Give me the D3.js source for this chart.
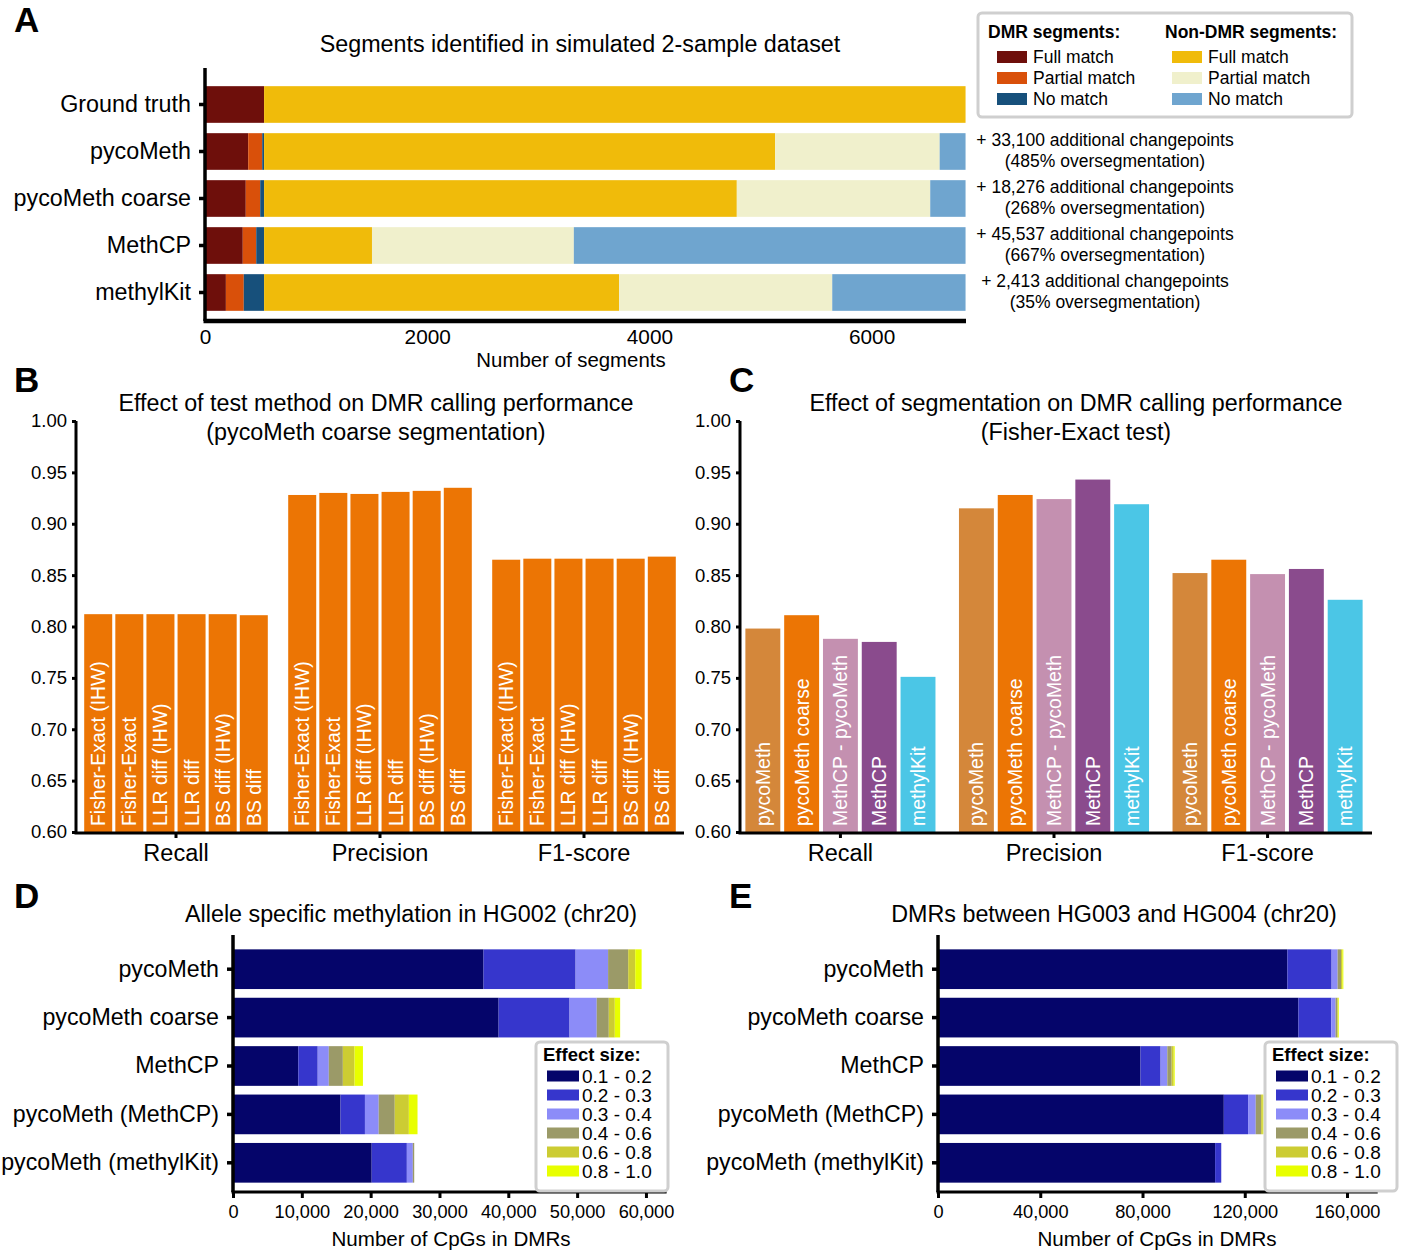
<!DOCTYPE html>
<html><head><meta charset="utf-8">
<script src="https://cdn.jsdelivr.net/npm/d3@7/dist/d3.min.js"></script>
<style>
body{margin:0;background:#fff;}
svg{display:block;font-family:"Liberation Sans",Arial,Helvetica,sans-serif;}
</style></head>
<body><svg id="fig" width="1417" height="1258"></svg>
<script>
// ---------- Panel A data ----------
const segCategories = ["Ground truth","pycoMeth","pycoMeth coarse","MethCP","methylKit"];
const segSeriesNames = ["DMR full","DMR partial","DMR no","Non-DMR full","Non-DMR partial","Non-DMR no"];
const dmrFull       = [532, 389, 367, 340, 188];
const dmrPartial    = [0, 126, 130, 121, 161];
const dmrNo         = [0, 17, 35, 71, 183];
const nonDmrFull    = [6314, 4600, 4255, 971, 3195];
const nonDmrPartial = [0, 1481, 1741, 1817, 1919];
const nonDmrNo      = [0, 233, 318, 3526, 1200];
const segColors = ["#6e0f0b","#d9500a","#17507b","#f0bb0a","#f0f0cc","#6fa5cf"];
const segTicks = [0,2000,4000,6000];
const annotLine1 = ["+ 33,100 additional changepoints","+ 18,276 additional changepoints","+ 45,537 additional changepoints","+ 2,413 additional changepoints"];
const annotLine2 = ["(485% oversegmentation)","(268% oversegmentation)","(667% oversegmentation)","(35% oversegmentation)"];

// ---------- Panel B data ----------
const metrics = ["Recall","Precision","F1-score"];
const testMethods = ["Fisher-Exact (IHW)","Fisher-Exact","LLR diff (IHW)","LLR diff","BS diff (IHW)","BS diff"];
const testRecall    = [0.812,0.812,0.812,0.812,0.812,0.811];
const testPrecision = [0.928,0.930,0.929,0.931,0.932,0.935];
const testF1        = [0.865,0.866,0.866,0.866,0.866,0.868];
const perfTicks = [0.60,0.65,0.70,0.75,0.80,0.85,0.90,0.95,1.00];

// ---------- Panel C data ----------
const segMethods = ["pycoMeth","pycoMeth coarse","MethCP - pycoMeth","MethCP","methylKit"];
const segRecall    = [0.798,0.811,0.788,0.785,0.751];
const segPrecision = [0.915,0.928,0.924,0.943,0.919];
const segF1        = [0.852,0.865,0.851,0.856,0.826];
const segMethodColors = ["#d4873a","#ec7504","#c490b0","#8a4b8d","#4bc6e6"];

// ---------- Panel D/E data ----------
const dmrCategories = ["pycoMeth","pycoMeth coarse","MethCP","pycoMeth (MethCP)","pycoMeth (methylKit)"];
const effectBins = ["0.1 - 0.2","0.2 - 0.3","0.3 - 0.4","0.4 - 0.6","0.6 - 0.8","0.8 - 1.0"];
const effectColors = ["#05056a","#3636cc","#8c8cf8","#9b9a68","#cccc33","#e8ff00"];
const aseBin1 = [36400, 38590, 9490, 15620, 20150];
const aseBin2 = [13380, 10310, 2820, 3550, 5110];
const aseBin3 = [4720, 3950, 1610, 2000, 870];
const aseBin4 = [2920, 1750, 2040, 2330, 200];
const aseBin5 = [1020, 870, 1700, 2050, 0];
const aseBin6 = [930, 780, 1220, 1260, 0];
const aseTicks = [0,10000,20000,30000,40000,50000,60000];
const hgBin1 = [136660, 140980, 79210, 111800, 108400];
const hgBin2 = [17310, 12860, 7870, 9500, 2400];
const hgBin3 = [2360, 1700, 2620, 3000, 0];
const hgBin4 = [1310, 660, 1710, 2100, 0];
const hgBin5 = [520, 400, 790, 650, 0];
const hgBin6 = [400, 250, 390, 260, 0];
const hgTicks = [0,40000,80000,120000,160000];

const svg = d3.select("#fig");
const fmt = d3.format(",");

function panelLetter(t,x,y){
  svg.append("text").attr("x",x).attr("y",y).attr("font-size",35).attr("font-weight","bold").text(t);
}
function styleAxis(g, w){
  g.select(".domain").attr("stroke","#000").attr("stroke-width",w);
  g.selectAll(".tick line").attr("stroke","#000").attr("stroke-width",w);
  g.selectAll(".tick text").attr("fill","#000");
  g.attr("font-family",null);
}

// ---------- stacked horizontal bar helper ----------
function stackedH(opt){
  const rows = opt.categories.map((c,i)=>{
    const o={cat:c}; opt.series.forEach((s,j)=>o["s"+j]=s[i]); return o;});
  const keys = opt.series.map((s,j)=>"s"+j);
  const stacked = d3.stack().keys(keys)(rows);
  const x = d3.scaleLinear().domain(opt.xDomain).range(opt.xRange);
  const y = d3.scaleBand().domain(opt.categories).range(opt.yRange).paddingInner(opt.pi).paddingOuter(opt.po);
  const g = svg.append("g");
  g.selectAll("g.ser").data(stacked).join("g").attr("fill",(d,i)=>opt.colors[i])
    .selectAll("rect").data(d=>d).join("rect")
    .attr("x",d=>x(d[0])).attr("width",d=>Math.max(0,x(d[1])-x(d[0])))
    .attr("y",d=>y(d.data.cat)).attr("height",y.bandwidth());
  // y axis
  const ya = g.append("g").attr("transform",`translate(${opt.xRange[0]},0)`)
    .call(d3.axisLeft(y).tickSize(6).tickPadding(8).tickSizeOuter(0));
  ya.select(".domain").attr("d",`M0,${opt.yAxisTop}V${opt.yRange[1]+opt.axisGap}`);
  styleAxis(ya,3.5);
  ya.selectAll(".tick text").attr("font-size",opt.catFont);
  // x axis
  const xa = g.append("g").attr("transform",`translate(0,${opt.yRange[1]+opt.axisGap})`)
    .call(d3.axisBottom(x).tickValues(opt.ticks).tickFormat(opt.tickFormat).tickSize(opt.xTickSize).tickPadding(opt.xTickPad).tickSizeOuter(0));
  xa.select(".domain").attr("d",`M${opt.xRange[0]-1.5},0H${opt.xRange[1]}`);
  styleAxis(xa,opt.xAxisW);
  xa.selectAll(".tick text").attr("font-size",opt.tickFont);
  g.append("text").attr("x",opt.xTitleX).attr("y",opt.xTitleY).attr("text-anchor","middle")
    .attr("font-size",opt.xTitleFont).text(opt.xTitle);
  return {x,y};
}

// ================= Panel A =================
panelLetter("A",14,32);
svg.append("text").attr("x",580).attr("y",52).attr("text-anchor","middle").attr("font-size",23.3)
  .text("Segments identified in simulated 2-sample dataset");
const A = stackedH({
  categories:segCategories,
  series:[dmrFull,dmrPartial,dmrNo,nonDmrFull,nonDmrPartial,nonDmrNo],
  colors:segColors, xDomain:[0,6850], xRange:[205,966], yRange:[81,316], pi:0.22, po:0.11,
  yAxisTop:68, axisGap:5, catFont:23.3, ticks:segTicks, tickFormat:d3.format("d"), tickSize:0,
  xTickSize:0, xTickPad:8, xAxisW:4.5, tickFont:20.8,
  xTitle:"Number of segments", xTitleX:571, xTitleY:367, xTitleFont:20.4
});
// annotations
annotLine1.forEach((t,i)=>{
  const cy = A.y(segCategories[i+1]) + A.y.bandwidth()/2;
  svg.append("text").attr("x",1105).attr("y",cy-6).attr("text-anchor","middle").attr("font-size",17.5).text(t);
  svg.append("text").attr("x",1105).attr("y",cy+15).attr("text-anchor","middle").attr("font-size",17.5).text(annotLine2[i]);
});
// legend A
{
  const lg = svg.append("g");
  lg.append("rect").attr("x",978).attr("y",13).attr("width",374).attr("height",104).attr("rx",4)
    .attr("fill","#fff").attr("stroke","#cfcfcf").attr("stroke-width",3);
  lg.append("text").attr("x",988).attr("y",38).attr("font-size",17.5).attr("font-weight","bold").text("DMR segments:");
  lg.append("text").attr("x",1165).attr("y",38).attr("font-size",17.5).attr("font-weight","bold").text("Non-DMR segments:");
  const labs=["Full match","Partial match","No match"];
  segSeriesNames.forEach((n,i)=>{
    const col = i<3?0:1, row=i%3;
    const sx = col===0?997:1172, cy = 57+row*21;
    lg.append("rect").attr("x",sx).attr("y",cy-6).attr("width",30).attr("height",12).attr("fill",segColors[i]);
    lg.append("text").attr("x",sx+36).attr("y",cy+6).attr("font-size",17.5).text(labs[row]);
  });
}

// ================= grouped bar helper (B, C) =================
function grouped(opt){
  const y = d3.scaleLinear().domain([0.6,1.0]).range([832,421]);
  const gx = d3.scaleBand().domain(metrics).range(opt.range).paddingInner(opt.pi).paddingOuter(opt.po);
  const ix = d3.scaleBand().domain(opt.items).range([0,gx.bandwidth()]).paddingInner(opt.ipi);
  const data=[];
  metrics.forEach((m,mi)=>opt.items.forEach((it,k)=>data.push({m,it,k,v:opt.values[mi][k]})));
  const g = svg.append("g");
  const bars = g.selectAll("g.bar").data(data).join("g")
    .attr("transform",d=>`translate(${gx(d.m)+ix(d.it)},0)`);
  bars.append("rect").attr("x",0).attr("width",ix.bandwidth())
    .attr("y",d=>y(d.v)).attr("height",d=>y(0.6)-y(d.v)).attr("fill",d=>opt.color(d.k));
  bars.append("text").attr("transform",`translate(${ix.bandwidth()/2+opt.txtDx},826) rotate(-90)`)
    .attr("fill","#fff").attr("font-size",opt.barFont).text(d=>d.it);
  // axes
  const ya = g.append("g").attr("transform",`translate(${opt.axisX},0)`)
    .call(d3.axisLeft(y).tickValues(perfTicks).tickFormat(d3.format(".2f")).tickSize(4).tickPadding(5).tickSizeOuter(0));
  ya.select(".domain").attr("d",`M0,${y(1.0)}V${y(0.6)+1.5}`);
  styleAxis(ya,3);
  ya.selectAll(".tick text").attr("font-size",18.5);
  const xa = g.append("g").attr("transform",`translate(0,833)`)
    .call(d3.axisBottom(gx).tickSize(5).tickPadding(6).tickSizeOuter(0));
  xa.select(".domain").attr("d",`M${opt.axisX-1.5},0H${opt.axisEnd}`);
  styleAxis(xa,3);
  xa.selectAll(".tick text").attr("font-size",23.5);
  opt.title.forEach((t,i)=>svg.append("text").attr("x",opt.titleX).attr("y",411+i*29)
    .attr("text-anchor","middle").attr("font-size",23.3).text(t));
}

// ================= Panel B =================
panelLetter("B",14,392);
grouped({items:testMethods, values:[testRecall,testPrecision,testF1], color:()=>"#ec7504",
  range:[74,686], pi:0.1, po:0.05, ipi:0.1, axisX:76, axisEnd:684, barFont:19.4, txtDx:7,
  title:["Effect of test method on DMR calling performance","(pycoMeth coarse segmentation)"], titleX:376});

// ================= Panel C =================
panelLetter("C",729,392);
grouped({items:segMethods, values:[segRecall,segPrecision,segF1], color:k=>segMethodColors[k],
  range:[733,1375], pi:0.11, po:0.058, ipi:0.1, axisX:740, axisEnd:1372, barFont:19.4, txtDx:7,
  title:["Effect of segmentation on DMR calling performance","(Fisher-Exact test)"], titleX:1076});

// ================= Panel D/E =================
function effectLegend(x,y){
  const lg=svg.append("g");
  lg.append("rect").attr("x",x).attr("y",y).attr("width",132).attr("height",149).attr("rx",4)
    .attr("fill","#fff").attr("stroke","#cfcfcf").attr("stroke-width",3);
  lg.append("text").attr("x",x+7).attr("y",y+19).attr("font-size",18.5).attr("font-weight","bold").text("Effect size:");
  effectBins.forEach((b,i)=>{
    const cy=y+34+i*19;
    lg.append("rect").attr("x",x+11).attr("y",cy-5.5).attr("width",32).attr("height",11).attr("fill",effectColors[i]);
    lg.append("text").attr("x",x+46).attr("y",cy+6.5).attr("font-size",19).text(b);
  });
}

panelLetter("D",14,908);
svg.append("text").attr("x",411).attr("y",922).attr("text-anchor","middle").attr("font-size",23.3)
  .text("Allele specific methylation in HG002 (chr20)");
stackedH({
  categories:dmrCategories, series:[aseBin1,aseBin2,aseBin3,aseBin4,aseBin5,aseBin6],
  colors:effectColors, xDomain:[0,63000], xRange:[233,666.6], yRange:[945,1187], pi:0.18, po:0.09,
  yAxisTop:935, axisGap:5, catFont:23.2, ticks:aseTicks, tickFormat:fmt,
  xTickSize:6, xTickPad:7, xAxisW:3, tickFont:18.2,
  xTitle:"Number of CpGs in DMRs", xTitleX:451, xTitleY:1246, xTitleFont:20.6
});
effectLegend(536,1042);

panelLetter("E",729,908);
svg.append("text").attr("x",1114).attr("y",922).attr("text-anchor","middle").attr("font-size",23.3)
  .text("DMRs between HG003 and HG004 (chr20)");
stackedH({
  categories:dmrCategories, series:[hgBin1,hgBin2,hgBin3,hgBin4,hgBin5,hgBin6],
  colors:effectColors, xDomain:[0,172000], xRange:[938,1377.7], yRange:[945,1187], pi:0.18, po:0.09,
  yAxisTop:935, axisGap:5, catFont:23.2, ticks:hgTicks, tickFormat:fmt,
  xTickSize:6, xTickPad:7, xAxisW:3, tickFont:18.2,
  xTitle:"Number of CpGs in DMRs", xTitleX:1157, xTitleY:1246, xTitleFont:20.6
});
effectLegend(1265,1042);
</script></body></html>
